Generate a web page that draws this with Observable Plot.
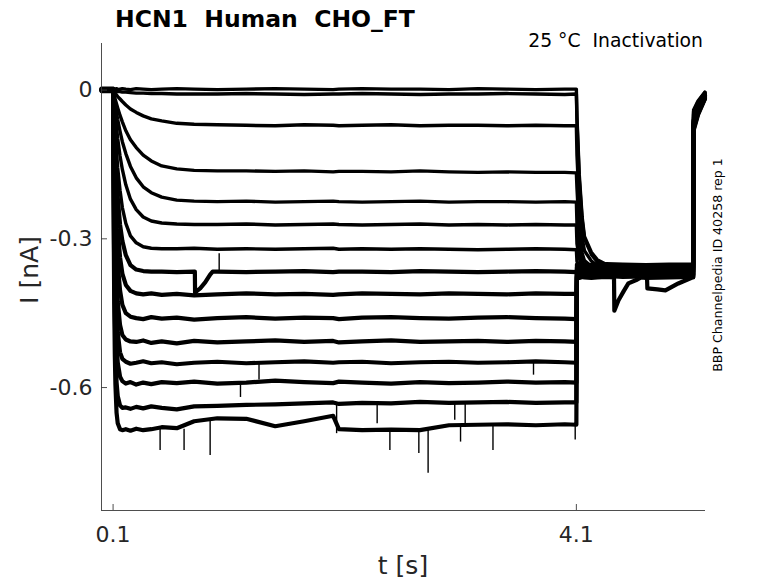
<!DOCTYPE html>
<html><head><meta charset="utf-8">
<script src="https://cdn.jsdelivr.net/npm/d3@7"></script>
<script src="https://cdn.jsdelivr.net/npm/@observablehq/plot@0.6"></script>
<style>body{margin:0;background:#fff} svg{display:block}</style>
</head><body><div id="chart"></div>
<script>
// ---- data ----
const xTicks = [0.1, 4.1];
const yTicks = [0, -0.3, -0.6];

// time grid of the conditioning step (s)
const tAct = [0, 0.1, 0.105, 0.11, 0.115, 0.12, 0.13, 0.14, 0.16, 0.18, 0.21, 0.25, 0.3, 0.36, 0.43, 0.52, 0.65, 0.8, 1.0, 1.25, 1.5, 1.75, 2.0, 2.05, 2.25, 2.5, 2.75, 3.0, 3.25, 3.5, 3.75, 4.0, 4.1];
// time grid of the test step (s)
const tTail = [4.105, 4.125, 4.15, 4.17, 4.23, 4.28, 4.36, 4.5, 4.7, 4.9, 5.1, 5.109, 5.112, 5.15, 5.21];

// currents (nA) during the conditioning step, one array per sweep
const act00 = [0.002, 0.002, 0.003, 0.002, 0.001, 0.002, 0.003, 0.001, 0.002, 0.003, 0.002, 0.001, 0.003, 0.002, 0.001, 0.002, 0.003, 0.002, 0.001, 0.002, 0.003, 0.002, 0.001, 0.002, 0.003, 0.002, 0.002, 0.001, 0.003, 0.002, 0.001, 0.002, 0.002];
const act01 = [0.000, 0.000, -0.001, -0.001, -0.001, -0.002, -0.002, -0.003, -0.003, -0.004, -0.004, -0.005, -0.006, -0.006, -0.007, -0.007, -0.008, -0.008, -0.008, -0.007, -0.008, -0.009, -0.008, -0.008, -0.007, -0.008, -0.009, -0.008, -0.008, -0.007, -0.008, -0.009, -0.008];
const act02 = [0.001, 0.001, -0.002, -0.0035, -0.005, -0.007, -0.010, -0.013, -0.018, -0.023, -0.030, -0.038, -0.045, -0.052, -0.058, -0.062, -0.067, -0.069, -0.070, -0.071, -0.072, -0.070, -0.071, -0.072, -0.071, -0.070, -0.072, -0.071, -0.071, -0.072, -0.071, -0.072, -0.072];
const act03 = [-0.001, -0.001, -0.005, -0.010, -0.015, -0.020, -0.028, -0.036, -0.051, -0.064, -0.082, -0.100, -0.116, -0.131, -0.143, -0.153, -0.159, -0.162, -0.163, -0.163, -0.164, -0.163, -0.165, -0.164, -0.164, -0.165, -0.163, -0.165, -0.166, -0.165, -0.166, -0.166, -0.167];
const act04 = [0.002, 0.002, -0.009, -0.017, -0.025, -0.032, -0.046, -0.060, -0.083, -0.104, -0.128, -0.154, -0.177, -0.195, -0.207, -0.216, -0.222, -0.224, -0.225, -0.224, -0.226, -0.225, -0.224, -0.225, -0.226, -0.225, -0.224, -0.226, -0.225, -0.225, -0.226, -0.225, -0.226];
const act05 = [0.000, 0.000, -0.015, -0.028, -0.042, -0.054, -0.076, -0.098, -0.133, -0.160, -0.191, -0.220, -0.241, -0.256, -0.264, -0.268, -0.270, -0.271, -0.271, -0.270, -0.272, -0.271, -0.270, -0.271, -0.272, -0.271, -0.270, -0.272, -0.271, -0.272, -0.271, -0.272, -0.272];
const act06 = [-0.002, -0.002, -0.026, -0.049, -0.070, -0.090, -0.125, -0.157, -0.202, -0.237, -0.269, -0.294, -0.308, -0.316, -0.319, -0.320, -0.320, -0.319, -0.321, -0.320, -0.321, -0.320, -0.319, -0.321, -0.320, -0.321, -0.320, -0.321, -0.322, -0.321, -0.320, -0.321, -0.322];
const act07 = [0.001, 0.001, -0.038, -0.073, -0.102, -0.132, -0.179, -0.216, -0.271, -0.304, -0.333, -0.353, -0.362, -0.365, -0.366, -0.366, -0.367, -0.366, -0.366, -0.367, -0.366, -0.365, -0.367, -0.366, -0.366, -0.367, -0.365, -0.366, -0.367, -0.366, -0.365, -0.366, -0.367];
const act08 = [0.003, 0.003, -0.055, -0.103, -0.144, -0.179, -0.237, -0.280, -0.337, -0.370, -0.393, -0.405, -0.410, -0.412, -0.410, -0.413, -0.411, -0.414, -0.412, -0.410, -0.412, -0.411, -0.413, -0.412, -0.410, -0.411, -0.412, -0.410, -0.411, -0.412, -0.410, -0.411, -0.411];
const act09 = [-0.001, -0.001, -0.075, -0.138, -0.190, -0.234, -0.303, -0.349, -0.404, -0.433, -0.450, -0.457, -0.460, -0.462, -0.458, -0.461, -0.459, -0.463, -0.460, -0.458, -0.461, -0.459, -0.460, -0.462, -0.459, -0.458, -0.460, -0.461, -0.459, -0.458, -0.460, -0.461, -0.462];
const act10 = [0.002, 0.002, -0.101, -0.185, -0.250, -0.304, -0.377, -0.426, -0.474, -0.494, -0.503, -0.507, -0.508, -0.505, -0.510, -0.507, -0.511, -0.506, -0.509, -0.507, -0.505, -0.508, -0.506, -0.509, -0.507, -0.505, -0.508, -0.507, -0.506, -0.508, -0.506, -0.507, -0.508];
const act11 = [-0.002, -0.002, -0.132, -0.234, -0.310, -0.368, -0.445, -0.489, -0.529, -0.542, -0.548, -0.552, -0.550, -0.547, -0.551, -0.549, -0.553, -0.550, -0.548, -0.551, -0.549, -0.547, -0.550, -0.549, -0.548, -0.551, -0.549, -0.548, -0.550, -0.549, -0.547, -0.549, -0.550];
const act12 = [0.001, 0.001, -0.165, -0.287, -0.372, -0.434, -0.510, -0.549, -0.578, -0.587, -0.592, -0.589, -0.594, -0.590, -0.593, -0.589, -0.591, -0.588, -0.592, -0.590, -0.586, -0.589, -0.591, -0.588, -0.590, -0.592, -0.589, -0.591, -0.590, -0.588, -0.590, -0.589, -0.590];
const act13 = [0.000, 0.000, -0.218, -0.362, -0.454, -0.518, -0.589, -0.617, -0.636, -0.641, -0.640, -0.643, -0.639, -0.642, -0.638, -0.641, -0.644, -0.638, -0.637, -0.635, -0.634, -0.632, -0.630, -0.633, -0.631, -0.632, -0.629, -0.631, -0.630, -0.629, -0.631, -0.630, -0.630];
const act14 = [-0.001, -0.001, -0.267, -0.432, -0.534, -0.593, -0.651, -0.672, -0.684, -0.686, -0.684, -0.687, -0.683, -0.686, -0.684, -0.680, -0.682, -0.668, -0.662, -0.663, -0.678, -0.668, -0.657, -0.684, -0.686, -0.685, -0.686, -0.676, -0.675, -0.674, -0.676, -0.674, -0.675];

// currents (nA) during the test step, one array per sweep
const tail00 = [-0.053, -0.170, -0.256, -0.295, -0.327, -0.342, -0.352, -0.356, -0.355, -0.357, -0.356, -0.356, -0.040, -0.022, -0.004];
const tail01 = [-0.060, -0.180, -0.262, -0.300, -0.332, -0.346, -0.356, -0.360, -0.359, -0.361, -0.360, -0.360, -0.043, -0.024, -0.005];
const tail02 = [-0.130, -0.232, -0.298, -0.324, -0.345, -0.353, -0.360, -0.362, -0.363, -0.361, -0.362, -0.362, -0.046, -0.026, -0.006];
const tail03 = [-0.197, -0.285, -0.329, -0.344, -0.356, -0.360, -0.363, -0.364, -0.365, -0.363, -0.364, -0.364, -0.049, -0.028, -0.007];
const tail04 = [-0.268, -0.317, -0.345, -0.355, -0.362, -0.364, -0.366, -0.366, -0.367, -0.365, -0.366, -0.366, -0.052, -0.030, -0.008];
const tail05 = [-0.310, -0.339, -0.356, -0.362, -0.366, -0.367, -0.368, -0.368, -0.369, -0.367, -0.368, -0.368, -0.055, -0.032, -0.009];
const tail06 = [-0.345, -0.358, -0.365, -0.368, -0.370, -0.370, -0.371, -0.370, -0.371, -0.369, -0.370, -0.370, -0.058, -0.034, -0.010];
const tail07 = [-0.370, -0.372, -0.372, -0.373, -0.371, -0.372, -0.372, -0.373, -0.371, -0.372, -0.372, -0.372, -0.061, -0.036, -0.011];
const tail08 = [-0.374, -0.374, -0.375, -0.373, -0.374, -0.375, -0.374, -0.373, -0.375, -0.374, -0.374, -0.374, -0.064, -0.038, -0.012];
const tail09 = [-0.376, -0.377, -0.376, -0.375, -0.377, -0.376, -0.375, -0.377, -0.376, -0.378, -0.378, -0.378, -0.067, -0.040, -0.013];
const tail10 = [-0.362, -0.361, -0.363, -0.362, -0.361, -0.363, -0.362, -0.361, -0.363, -0.362, -0.362, -0.362, -0.070, -0.042, -0.014];
const tail11 = [-0.366, -0.367, -0.365, -0.366, -0.367, -0.366, -0.365, -0.367, -0.366, -0.365, -0.366, -0.366, -0.073, -0.044, -0.015];
const tail12 = [-0.378, -0.379, -0.377, -0.378, -0.379, -0.378, -0.377, -0.378, -0.379, -0.378, -0.377, -0.377, -0.076, -0.046, -0.016];
const tail13 = [-0.358, -0.359, -0.357, -0.358, -0.359, -0.358, -0.357, -0.358, -0.359, -0.358, -0.358, -0.358, -0.079, -0.048, -0.017];
const tail14 = [-0.352, -0.353, -0.351, -0.352, -0.353, -0.352, -0.351, -0.352, -0.353, -0.352, -0.352, -0.352, -0.082, -0.050, -0.018];

// artefacts seen on single sweeps: [t, I]
const glitch07 = [[0.806, -0.366], [0.808, -0.409], [0.825, -0.405], [0.852, -0.400], [0.895, -0.388], [0.938, -0.372], [0.96, -0.366]];
const glitch12 = [[4.425, -0.378], [4.428, -0.445], [4.464, -0.424], [4.51, -0.405], [4.549, -0.390], [4.627, -0.382], [4.66, -0.378]];
const glitch09 = [[4.71, -0.377], [4.713, -0.400], [4.80, -0.402], [4.869, -0.404], [4.98, -0.390], [5.1, -0.378]];

// brief spikes: time, from, to (nA)
const spikeT    = [0.506, 0.713, 0.938, 2.49, 2.74, 2.82, 3.10, 3.38, 4.09, 2.03, 2.38, 3.05, 3.14, 1.36, 1.016, 1.20, 3.73];
const spikeFrom = [-0.682, -0.684, -0.665, -0.685, -0.686, -0.686, -0.676, -0.675, -0.675, -0.630, -0.631, -0.631, -0.630, -0.551, -0.366, -0.590, -0.549];
const spikeTo   = [-0.727, -0.727, -0.737, -0.727, -0.733, -0.773, -0.710, -0.727, -0.706, -0.693, -0.673, -0.666, -0.676, -0.585, -0.330, -0.620, -0.575];

// ---- build table ----
const actAll = [act00, act01, act02, act03, act04, act05, act06, act07, act08, act09, act10, act11, act12, act13, act14];
const tailAll = [tail00, tail01, tail02, tail03, tail04, tail05, tail06, tail07, tail08, tail09, tail10, tail11, tail12, tail13, tail14];
const glitches = {7: glitch07, 12: glitch12, 9: glitch09};

const rows = [];
actAll.forEach((act, k) => {
  let pts = tAct.map((t, i) => [t, act[i]]).concat(tTail.map((t, i) => [t, tailAll[k][i]]));
  const g = glitches[k];
  if (g) {
    const a = g[0][0], b = g[g.length - 1][0];
    pts = pts.filter(p => p[0] < a || p[0] > b).concat(g);
    pts.sort((p, q) => p[0] - q[0]);
  }
  pts.forEach(p => rows.push({sweep: k, t: p[0], I: p[1]}));
});
const spikes = spikeT.map((t, i) => ({t, a: spikeFrom[i], b: spikeTo[i]}));

// ---- chart ----
const W = 778, H = 583, mL = 101, mR = 73, mT = 43, mB = 73;
const yMin = -0.848, yMax = 0.094;
const axisColor = "#3a3a3a";
const textColor = "#262626";

const svg = Plot.plot({
  width: W, height: H,
  marginLeft: mL, marginRight: mR, marginTop: mT, marginBottom: mB,
  style: {fontFamily: "DejaVu Sans", fontSize: "22px", color: textColor, background: "#fff", overflow: "visible"},
  x: {domain: [0, 5.215]},
  y: {domain: [yMin, yMax]},
  marks: [
    Plot.line(rows.filter(d => d.sweep < 7), {x: "t", y: "I", z: "sweep", stroke: "black", strokeWidth: 3.4}),
    Plot.line(rows.filter(d => d.sweep >= 7), {x: "t", y: "I", z: "sweep", stroke: "black", strokeWidth: 4.2}),
    Plot.ruleX(spikes, {x: "t", y1: "a", y2: "b", stroke: "black", strokeWidth: 1.4}),
    Plot.ruleX([0], {stroke: axisColor, strokeWidth: 0.9}),
    Plot.ruleY([yMin], {stroke: axisColor, strokeWidth: 0.9}),
    Plot.ruleX(xTicks, {stroke: axisColor, strokeWidth: 0.9, insetTop: H - mT - mB - 6}),
    Plot.ruleY(yTicks, {stroke: axisColor, strokeWidth: 0.9, insetRight: W - mL - mR - 6}),
    Plot.axisX({ticks: xTicks, tickSize: 0, tickPadding: 16, tickFormat: d => d.toFixed(1), label: null}),
    Plot.axisY({ticks: yTicks, tickSize: 0, tickPadding: 9, tickFormat: d => d === 0 ? "0" : d.toFixed(1), label: null})
  ]
});

const s = d3.select(svg);
s.append("text").attr("x", 115).attr("y", 27).attr("text-anchor", "start")
  .attr("font-family", "DejaVu Sans").attr("font-weight", "bold").attr("font-size", 23.5).attr("fill", "#000")
  .text("HCN1\u00a0 Human\u00a0 CHO_FT");
s.append("text").attr("x", 703).attr("y", 47).attr("text-anchor", "end")
  .attr("font-family", "DejaVu Sans").attr("font-size", 18.8).attr("fill", "#000")
  .text("25 °C\u00a0 Inactivation");
s.append("text").attr("transform", "translate(38,270) rotate(-90)").attr("text-anchor", "middle")
  .attr("font-family", "DejaVu Sans").attr("font-size", 25).attr("fill", textColor)
  .text("I [nA]");
s.append("text").attr("x", 403).attr("y", 574).attr("text-anchor", "middle")
  .attr("font-family", "DejaVu Sans").attr("font-size", 25).attr("fill", textColor)
  .text("t [s]");
s.append("text").attr("transform", "translate(722,265) rotate(-90)").attr("text-anchor", "middle")
  .attr("font-family", "DejaVu Sans").attr("font-size", 12.6).attr("fill", "#000")
  .text("BBP Channelpedia ID 40258 rep 1");

document.getElementById("chart").appendChild(svg);
</script>
</body></html>
